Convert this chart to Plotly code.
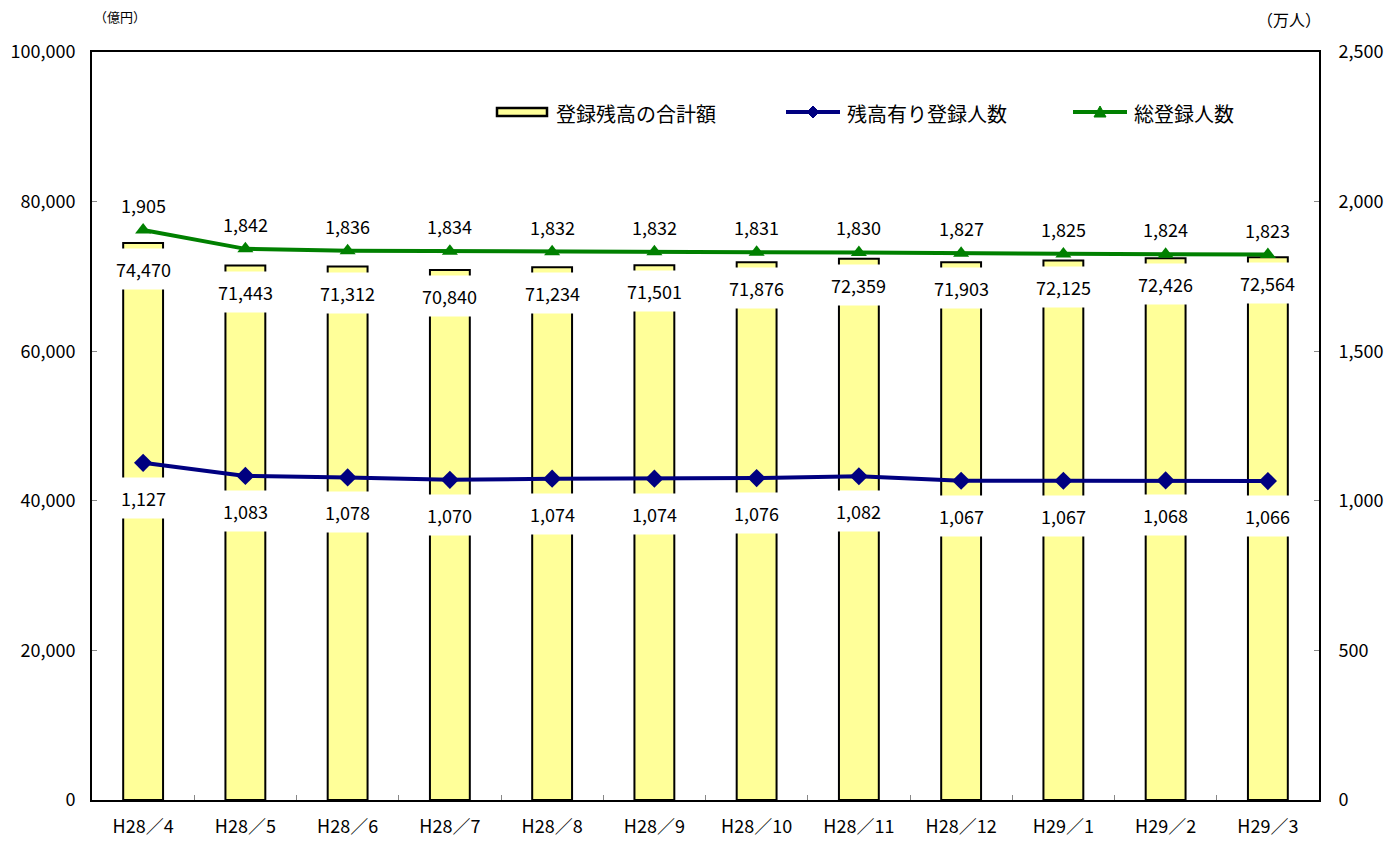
import plotly.graph_objects as go

categories = ["H28／4", "H28／5", "H28／6", "H28／7", "H28／8", "H28／9",
              "H28／10", "H28／11", "H28／12", "H29／1", "H29／2", "H29／3"]
balance_total = [74470, 71443, 71312, 70840, 71234, 71501, 71876, 72359, 71903, 72125, 72426, 72564]
users_with_balance = [1127, 1083, 1078, 1070, 1074, 1074, 1076, 1082, 1067, 1067, 1068, 1066]
total_users = [1905, 1842, 1836, 1834, 1832, 1832, 1831, 1830, 1827, 1825, 1824, 1823]
left_ticks = [0, 20000, 40000, 60000, 80000, 100000]
right_ticks = [0, 500, 1000, 1500, 2000, 2500]

name_bar = "登録残高の合計額"
name_blue = "残高有り登録人数"
name_green = "総登録人数"

FONT = "Noto Sans CJK JP"
BAR_COLOR = "#FFFF99"
BLUE = "#000080"
GREEN = "#008000"

# plot-area geometry (pixels) used only to place the hand-drawn legend
L, R, T, B = 92, 1319, 52, 800


def px(x):
    return (x - L) / (R - L)


def py(y):
    return (B - y) / (B - T)


fig = go.Figure()
fig.add_trace(go.Bar(
    x=categories, y=balance_total, name=name_bar,
    marker=dict(color=BAR_COLOR, line=dict(color="black", width=2)),
    width=0.39, yaxis="y",
))
fig.add_trace(go.Scatter(
    x=categories, y=users_with_balance, name=name_blue, yaxis="y2",
    mode="lines+markers",
    line=dict(color=BLUE, width=4),
    marker=dict(symbol="diamond", size=14, color=BLUE),
))
fig.add_trace(go.Scatter(
    x=categories, y=total_users, name=name_green, yaxis="y2",
    mode="lines+markers",
    line=dict(color=GREEN, width=4),
    marker=dict(symbol="triangle-up", size=14, color=GREEN),
))

LBL = dict(size=18, color="black", family=FONT)
annotations = []
for c, v in zip(categories, balance_total):
    annotations.append(dict(
        x=c, y=v, xref="x", yref="y", text=f"{v:,}", showarrow=False,
        yanchor="top", yshift=-5, bgcolor="white", borderpad=7, font=LBL,
    ))
for c, v in zip(categories, users_with_balance):
    annotations.append(dict(
        x=c, y=v, xref="x", yref="y2", text=f"{v:,}", showarrow=False,
        yanchor="top", yshift=-14, bgcolor="white", borderpad=7, font=LBL,
    ))
for c, v in zip(categories, total_users):
    annotations.append(dict(
        x=c, y=v, xref="x", yref="y2", text=f"{v:,}", showarrow=False,
        yanchor="bottom", yshift=10, font=LBL,
    ))
annotations.append(dict(x=px(120), y=py(16), xref="paper", yref="paper", text="（億円）",
                        showarrow=False, xanchor="center", yanchor="middle",
                        font=dict(size=13, color="black", family=FONT)))
annotations.append(dict(x=px(1289), y=py(19), xref="paper", yref="paper", text="（万人）",
                        showarrow=False, xanchor="center", yanchor="middle",
                        font=dict(size=16, color="black", family=FONT)))

# hand-drawn legend
LEG_FONT = dict(size=20, color="black", family=FONT)
LY = 113
for x0, label in [(554, name_bar), (845, name_blue), (1132, name_green)]:
    annotations.append(dict(x=px(x0), y=py(LY), xref="paper", yref="paper", text=label,
                            showarrow=False, xanchor="left", yanchor="middle",
                            font=LEG_FONT))

shapes = [
    dict(type="rect", xref="paper", yref="paper", x0=px(497), x1=px(547),
         y0=py(116), y1=py(108), fillcolor=BAR_COLOR, line=dict(color="black", width=2.5)),
    dict(type="line", xref="paper", yref="paper", x0=px(786), x1=px(840),
         y0=py(112), y1=py(112), line=dict(color=BLUE, width=4)),
    dict(type="path", xref="paper", yref="paper",
         path=f"M{px(807)},{py(112)} L{px(813)},{py(106)} L{px(819)},{py(112)} L{px(813)},{py(118)} Z",
         fillcolor=BLUE, line=dict(color=BLUE, width=1)),
    dict(type="line", xref="paper", yref="paper", x0=px(1073), x1=px(1127),
         y0=py(112), y1=py(112), line=dict(color=GREEN, width=4)),
    dict(type="path", xref="paper", yref="paper",
         path=f"M{px(1094)},{py(117)} L{px(1100)},{py(106)} L{px(1106)},{py(117)} Z",
         fillcolor=GREEN, line=dict(color=GREEN, width=1)),
]

fig.update_layout(
    width=1399, height=849,
    margin=dict(l=84, r=88, t=44, b=57),
    paper_bgcolor="white", plot_bgcolor="white",
    font=dict(family=FONT, size=18, color="black"),
    showlegend=False,
    xaxis=dict(type="category", range=[-0.5, len(categories) - 0.5],
               showline=True, linecolor="black", linewidth=2,
               mirror=True, ticks="inside", ticklen=5, tickcolor="#888",
               tickson="boundaries", showgrid=False, automargin=False,
               ticklabelstandoff=9, tickfont=dict(size=18, family=FONT)),
    yaxis=dict(range=[0, 100000], tickvals=left_ticks,
               ticktext=[f"{v:,}" for v in left_ticks],
               showline=True, linecolor="black", linewidth=2, ticks="inside",
               ticklen=5, tickcolor="#888", showgrid=False, zeroline=False,
               automargin=False, ticklabelstandoff=11,
               tickfont=dict(size=18, family=FONT)),
    yaxis2=dict(range=[0, 2500], tickvals=right_ticks,
                ticktext=[f"{v:,}" for v in right_ticks],
                overlaying="y", side="right", showline=True, linecolor="black",
                linewidth=2, ticks="inside", ticklen=5, tickcolor="#888",
                showgrid=False, zeroline=False, automargin=False,
                ticklabelstandoff=14, tickfont=dict(size=18, family=FONT)),
    annotations=annotations,
    shapes=shapes,
)

fig.write_html("out.html")
